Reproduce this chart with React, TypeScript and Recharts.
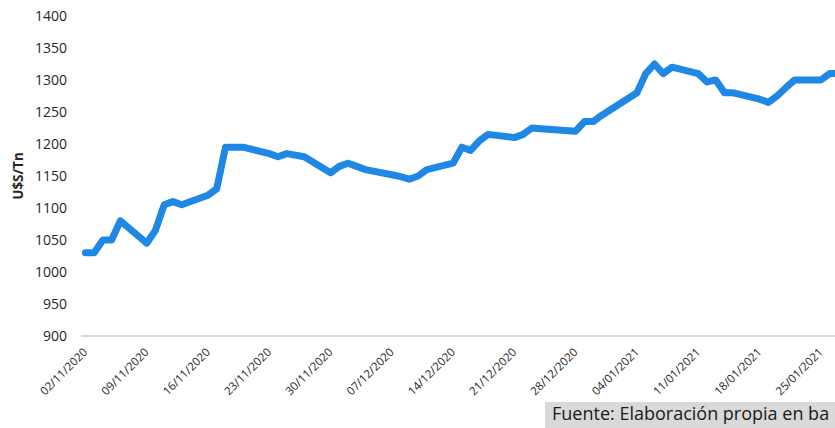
import React from "react";
import { LineChart, Line, XAxis, YAxis } from "recharts";

const dates: string[] = [
  "02/11/2020", "03/11/2020", "04/11/2020", "05/11/2020", "06/11/2020",
  "09/11/2020", "10/11/2020", "11/11/2020", "12/11/2020", "13/11/2020",
  "16/11/2020", "17/11/2020", "18/11/2020", "19/11/2020", "20/11/2020",
  "23/11/2020", "24/11/2020", "25/11/2020", "27/11/2020",
  "30/11/2020", "01/12/2020", "02/12/2020", "03/12/2020", "04/12/2020",
  "07/12/2020", "08/12/2020", "09/12/2020", "10/12/2020", "11/12/2020",
  "14/12/2020", "15/12/2020", "16/12/2020", "17/12/2020", "18/12/2020",
  "21/12/2020", "22/12/2020", "23/12/2020", "24/12/2020",
  "28/12/2020", "29/12/2020", "30/12/2020", "31/12/2020",
  "04/01/2021", "05/01/2021", "06/01/2021", "07/01/2021", "08/01/2021",
  "11/01/2021", "12/01/2021", "13/01/2021", "14/01/2021", "15/01/2021",
  "18/01/2021", "19/01/2021", "20/01/2021", "21/01/2021", "22/01/2021",
  "25/01/2021", "26/01/2021", "27/01/2021",
];

const prices: number[] = [
  1030, 1030, 1050, 1050, 1080,
  1045, 1065, 1105, 1110, 1105,
  1120, 1130, 1195, 1195, 1195,
  1185, 1180, 1185, 1180,
  1155, 1165, 1170, 1165, 1160,
  1152, 1149, 1145, 1150, 1160,
  1170, 1195, 1190, 1205, 1215,
  1210, 1215, 1225, 1224,
  1220, 1235, 1235, 1245,
  1280, 1310, 1325, 1310, 1320,
  1310, 1297, 1300, 1280, 1280,
  1270, 1265, 1275, 1288, 1300,
  1300, 1310, 1310,
];

const xTickLabels: string[] = [
  "02/11/2020", "09/11/2020", "16/11/2020", "23/11/2020", "30/11/2020",
  "07/12/2020", "14/12/2020", "21/12/2020", "28/12/2020", "04/01/2021",
  "11/01/2021", "18/01/2021", "25/01/2021",
];

const yTicks: number[] = [900, 950, 1000, 1050, 1100, 1150, 1200, 1250, 1300, 1350, 1400];

const yLabel = "U$S/Tn";
const sourceText = "Fuente: Elaboración propia en ba";

const parseDay = (s: string): number => {
  const [d, m, y] = s.split("/").map(Number);
  return Math.round((Date.UTC(y, m - 1, d) - Date.UTC(2020, 10, 2)) / 86400000);
};

const dayToLabel: Record<number, string> = {};
xTickLabels.forEach((l) => {
  dayToLabel[parseDay(l)] = l;
});
const xTicks = xTickLabels.map(parseDay);

const data = dates.map((d, i) => ({ day: parseDay(d), price: prices[i] }));

const FONT = "'Open Sans', sans-serif";
const TEXT = "#262626";

const XTick = (props: any) => {
  const { x, y, payload } = props;
  const ty = y + 14;
  return (
    <text
      x={x}
      y={ty}
      dy="0.35em"
      textAnchor="end"
      transform={`rotate(-45 ${x} ${ty})`}
      fontFamily={FONT}
      fontSize={11.5}
      fill={TEXT}
    >
      {dayToLabel[payload.value] ?? ""}
    </text>
  );
};

const YLabel = () => (
  <text
    x={23}
    y={176}
    transform="rotate(-90 23 176)"
    textAnchor="middle"
    fontFamily={FONT}
    fontWeight="bold"
    fontSize={13.5}
    fill={TEXT}
  >
    {yLabel}
  </text>
);

export default function App() {
  return (
    <div
      style={{
        position: "fixed",
        left: 0,
        top: 0,
        width: 835,
        height: 428,
        overflow: "hidden",
        background: "#ffffff",
      }}
    >
      <LineChart
        width={880}
        height={416}
        data={data}
        margin={{ top: 16, right: 11, bottom: 0, left: 0 }}
      >
        <XAxis
          dataKey="day"
          type="number"
          domain={[-0.5, 89.5]}
          ticks={xTicks}
          interval={0}
          tick={<XTick />}
          tickLine={false}
          tickSize={0}
          tickMargin={0}
          axisLine={{ stroke: "#d9d9d9", strokeWidth: 2 }}
          height={80}
          allowDataOverflow
        />
        <YAxis
          type="number"
          domain={[900, 1400]}
          ticks={yTicks}
          interval={0}
          width={81}
          axisLine={false}
          tickLine={false}
          tickSize={0}
          tickMargin={14}
          tick={{ fontFamily: FONT, fontSize: 14, fill: TEXT }}
          label={{ content: () => <YLabel /> }}
        />
        <Line
          type="linear"
          dataKey="price"
          stroke="#1F88E5"
          strokeWidth={7}
          strokeLinejoin="round"
          strokeLinecap="round"
          dot={false}
          activeDot={false}
          isAnimationActive={false}
        />
      </LineChart>
      <div
        style={{
          position: "absolute",
          left: 545,
          top: 402,
          height: 26,
          width: 290,
          background: "#d9d9d9",
          paddingLeft: 7,
          boxSizing: "border-box",
          fontFamily: FONT,
          fontSize: 18,
          lineHeight: "22px",
          color: "#1a1a1a",
          whiteSpace: "nowrap",
        }}
      >
        {sourceText}
      </div>
    </div>
  );
}
